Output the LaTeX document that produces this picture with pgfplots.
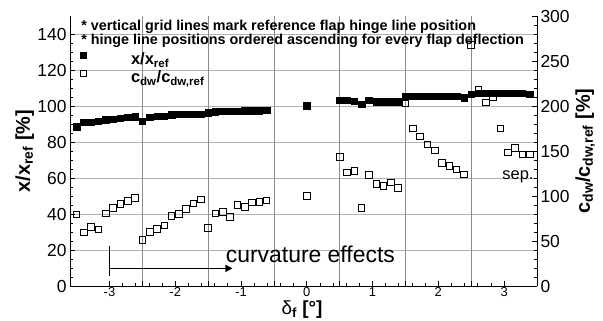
\documentclass[border=0pt]{standalone}
\usepackage{fontspec}
\setmainfont{Liberation Sans}
\usepackage{pgfplots}
\pgfplotsset{compat=1.18}
\usepackage{pgfplotstable}
\usetikzlibrary{arrows.meta}

\pgfplotstableread{
x xr cdw
-3.5 88.5 79.6
-3.389 90.9 59.3
-3.278 91.1 65.9
-3.167 91.5 63.0
-3.056 92.4 80.7
-2.944 92.8 87.0
-2.833 93.3 91.1
-2.722 93.9 94.4
-2.611 94.1 98.1
-2.5 91.7 51.1
-2.389 93.9 60.0
-2.278 94.3 63.7
-2.167 94.4 67.4
-2.056 95.2 78.1
-1.944 95.6 80.0
-1.833 95.6 85.9
-1.722 95.6 91.9
-1.611 95.6 96.3
-1.5 96.3 64.4
-1.389 96.9 80.7
-1.278 97.1 82.2
-1.167 97.1 77.0
-1.056 97.2 90.0
-0.944 97.3 87.8
-0.833 97.4 93.0
-0.722 97.4 93.3
-0.611 97.5 95.2
0 100.2 100.3
0.5 103.3 143.7
0.611 103.3 126.0
0.722 102.8 128.1
0.833 101.1 87.0
0.944 103.3 123.7
1.056 102.4 113.3
1.167 102.4 111.5
1.278 102.4 115.2
1.389 102.4 108.9
1.5 105.3 203.0
1.611 105.3 175.2
1.722 105.3 166.0
1.833 105.3 157.4
1.944 105.3 150.4
2.056 105.3 136.8
2.167 105.3 133.5
2.278 105.3 129.6
2.389 104.6 124.1
2.5 106.5 267.8
2.611 107.2 218.0
2.722 107.2 204.0
2.833 107.2 210.0
2.944 107.2 175.2
3.056 107.0 148.5
3.167 107.0 153.3
3.278 107.2 146.0
3.389 106.7 146.0
}\data

\pgfplotsset{
  base/.style={
    scale only axis, width=467bp, height=270bp,
    at={(70bp,34bp)}, anchor=south west,
    xmin=-3.6, xmax=3.5,
    /pgf/number format/assume math mode=true,
    tick align=inside,
    major tick length=5bp, minor tick length=3bp,
    every tick/.style={black, line width=0.8bp},
    axis line style={line width=1bp},
    clip=false,
  }
}

\begin{document}
\begin{tikzpicture}[x=1bp,y=1bp]
\useasboundingbox (0,0) rectangle (603,320);

% left axis, x axis, grid, legend, annotations
\begin{axis}[base,
  ymin=0, ymax=150,
  axis x line*=bottom, axis y line*=left,
  xtick={-3,-2,-1,0,1,2,3}, minor x tick num=4,
  extra x ticks={-2.5,-1.5,-0.5,0.5,1.5,2.5}, extra x tick labels={},
  extra x tick style={grid=major, major grid style={black!45, line width=0.6bp}},
  ytick={0,20,...,140}, minor y tick num=3,
  ymajorgrids, major grid style={black!30, line width=0.6bp},
  x tick label style={font=\fontsize{13}{13}\selectfont, yshift=2bp},
  y tick label style={font=\fontsize{17.5}{17.5}\selectfont},
  xlabel={\fontsize{19}{19}\selectfont δ\textsubscript{\bfseries f} \bfseries[°]},
  xlabel style={at={(axis description cs:0.497,-0.104)}, anchor=base},
  ylabel={\fontsize{20}{20}\selectfont\bfseries x/x\textsubscript{ref} [\%]},
  ylabel style={at={(axis description cs:-0.086,0.5)}, anchor=base},
  legend style={at={(axis cs:-3.45,130.2)}, anchor=north west, draw=none, fill=none,
    font=\fontsize{16.5}{16.5}\selectfont\bfseries, row sep=2.5bp, inner sep=0pt,
    nodes={inner sep=1bp}},
  legend cell align=left,
  legend image code/.code={\draw[#1] plot coordinates {(12bp,4bp)};},
]
\addlegendimage{only marks, mark=square*, mark size=3bp, black}
\addlegendentry{\hspace*{44bp}x/x\textsubscript{ref}}
\addlegendimage{only marks, mark=square, mark size=3bp, black, mark options={line width=0.9bp}}
\addlegendentry{\hspace*{44bp}c\textsubscript{dw}/c\textsubscript{dw,ref}}

\node[anchor=base west, inner sep=0pt, font=\fontsize{14.4}{14.4}\selectfont\bfseries]
  at (axis cs:-3.43,142.2) {* vertical grid lines mark reference flap hinge line position};
\node[anchor=base west, inner sep=0pt, font=\fontsize{14.4}{14.4}\selectfont\bfseries]
  at (axis cs:-3.43,134.4) {* hinge line positions ordered ascending for every flap deflection};

\draw[line width=1.3bp] (axis cs:-3,22.2) -- (axis cs:-3,5.6);
\draw[line width=1.3bp, -{Triangle[length=7bp,width=7bp]}] (axis cs:-3,9.8) -- (axis cs:-1.13,9.8);
\node[anchor=base west, inner sep=0pt, font=\fontsize{23}{23}\selectfont]
  at (axis cs:-1.233,12.8) {curvature effects};
\node[anchor=base east, inner sep=0pt, font=\fontsize{16.5}{16.5}\selectfont]
  at (axis cs:3.45,58.9) {sep.};
\end{axis}

% right axis, open squares
\begin{axis}[base,
  ymin=0, ymax=300,
  axis y line*=right, axis x line=none,
  ytick={0,50,...,300}, minor y tick num=4,
  y tick label style={font=\fontsize{17.5}{17.5}\selectfont},
  ylabel={\fontsize{20}{20}\selectfont\bfseries c\textsubscript{dw}/c\textsubscript{dw,ref} [\%]},
  ylabel style={at={(axis description cs:1.113,0.5)}, anchor=base, rotate=0},
]
\addplot[only marks, mark=square, mark size=3.3bp, black, mark options={line width=0.9bp}]
  table[x=x, y=cdw] {\data};
\end{axis}

% filled squares on top
\begin{axis}[base, ymin=0, ymax=150, hide axis]
\addplot[only marks, mark=square*, mark size=3.2bp, black] table[x=x, y=xr] {\data};
\end{axis}
\end{tikzpicture}
\end{document}
